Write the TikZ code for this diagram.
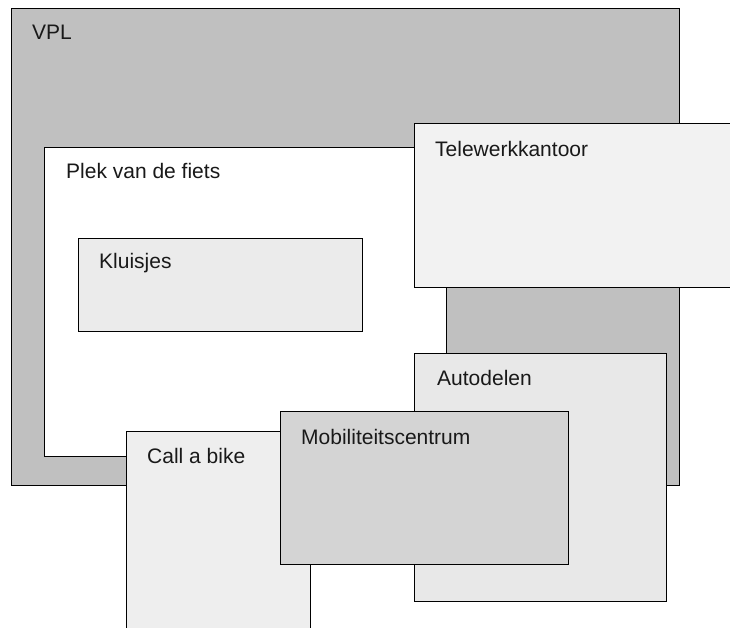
\documentclass[tikz,border=0pt]{standalone}
\usepackage{fontspec}
\setmainfont{Liberation Sans}
\usepackage{xcolor}
\usetikzlibrary{calc}
\definecolor{vplgray}{HTML}{C0C0C0}
\definecolor{kluisgray}{HTML}{EBEBEB}
\definecolor{telegray}{HTML}{F2F2F2}
\definecolor{autogray}{HTML}{E8E8E8}
\definecolor{bikegray}{HTML}{EEEEEE}
\definecolor{mobigray}{HTML}{D4D4D4}

\begin{document}
\begin{tikzpicture}[x=1pt,y=-1pt,font=\fontsize{21}{25}\selectfont,
    area/.style={draw=black, line width=1.4pt, anchor=north west, inner sep=0pt},
    lbl/.style={anchor=base west, inner sep=0pt, text=black!90}]
  \fill[white] (0,0) rectangle (730,628);
  \clip (0,0) rectangle (730,628);
  % ---- outer areas ----
  \node[area, fill=vplgray, minimum width=668pt, minimum height=477pt] (vpl) at (11,8) {};
  \node[lbl] (vpllbl) at ($(vpl.north west)+(21,32)$) {VPL};
  \node[area, fill=white, minimum width=402pt, minimum height=309pt] (plek) at (44,147) {};
  \node[lbl] (pleklbl) at ($(plek.north west)+(22,32)$) {Plek van de fiets};
  \node[area, fill=kluisgray, minimum width=284pt, minimum height=93pt] (kluis) at (78,238) {};
  \node[lbl] (kluislbl) at ($(kluis.north west)+(21,31)$) {Kluisjes};
  % ---- overlapping services ----
  \node[area, fill=telegray, minimum width=346pt, minimum height=164pt] (tele) at (414,123) {};
  \node[lbl] (telelbl) at ($(tele.north west)+(21,34)$) {Telewerkkantoor};
  \node[area, fill=autogray, minimum width=252pt, minimum height=248pt] (auto) at (414,353) {};
  \node[lbl] (autolbl) at ($(auto.north west)+(23,32)$) {Autodelen};
  \node[area, fill=bikegray, minimum width=184pt, minimum height=229pt] (bike) at (126,431) {};
  \node[lbl] (bikelbl) at ($(bike.north west)+(21,32)$) {Call a bike};
  \node[area, fill=mobigray, minimum width=288pt, minimum height=153pt] (mobi) at (280,411) {};
  \node[lbl] (mobilbl) at ($(mobi.north west)+(21,33)$) {Mobiliteitscentrum};
\end{tikzpicture}
\end{document}
